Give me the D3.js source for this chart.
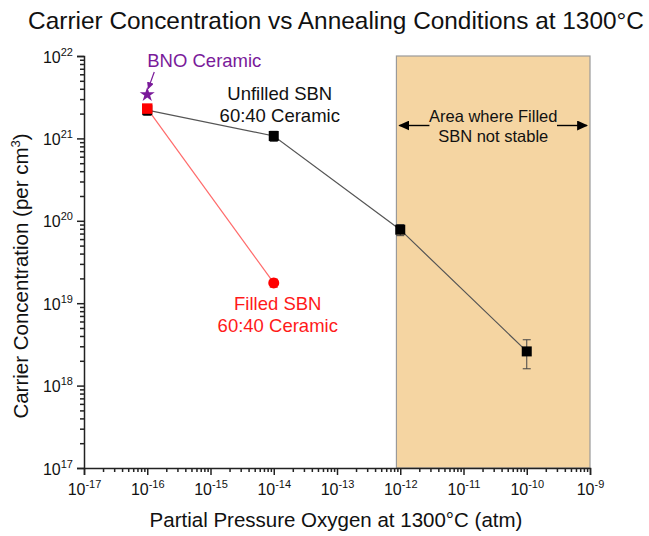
<!DOCTYPE html>
<html>
<head>
<meta charset="utf-8">
<script src="https://cdn.jsdelivr.net/npm/d3@7"></script>
<style>
	body { margin: 0; background: #fff; }
	text { font-family: "Liberation Sans", Arial, sans-serif; }
</style>
</head>
<body>
<div id="graph"></div>
<script>
var	SVGwidth = 649,
	SVGheight = 536,
	margin = {top: 56, right: 59, bottom: 68, left: 84},
	width = SVGwidth - margin.left - margin.right,
	height = SVGheight - margin.top - margin.bottom;

// data
var unfilledPressure = [1e-16, 1e-14, 1e-12, 1e-10],
	unfilledConc = [2.2e21, 1.07e21, 7.8e19, 2.6e18],
	unfilledErr = [0.3e21, 0.15e21, 1.2e19, 1.0e18];

var filledPressure = [1e-16, 1e-14],
	filledConc = [2.3e21, 1.76e19],
	filledErr = [0.15e21, 0.2e19];

var bnoPressure = [1e-16],
	bnoConc = [3.4e21];

var unstableRange = [0.87e-12, 1e-9];

var xMajor = [1e-17, 1e-16, 1e-15, 1e-14, 1e-13, 1e-12, 1e-11, 1e-10, 1e-9],
	xExp = [-17, -16, -15, -14, -13, -12, -11, -10, -9],
	yMajor = [1e17, 1e18, 1e19, 1e20, 1e21, 1e22],
	yExp = [17, 18, 19, 20, 21, 22];

var svg = d3.select('div#graph')
				.append('svg')
				.attr('width', SVGwidth)
				.attr('height', SVGheight);

var g = svg.append('g')
	.attr('transform', 'translate(' + margin.left + ',' + margin.top + ')');

var x = d3.scaleLog()
		.domain([1e-17, 1e-9])
		.range([0, width]),
	y = d3.scaleLog()
		.domain([1e17, 1e22])
		.range([height, 0]);

function minors(majors) {
	var out = [];
	majors.slice(0, -1).forEach(function(m) {
		for (var k = 2; k < 10; k++) out.push(m * k);
	});
	return out;
}

// shaded region
g.append('rect')
	.attr('x', x(unstableRange[0]))
	.attr('y', 0)
	.attr('width', x(unstableRange[1]) - x(unstableRange[0]))
	.attr('height', height)
	.attr('fill', '#f5d5a2')
	.attr('stroke', '#9a9a9a')
	.attr('stroke-width', 1.2);

// axes
var xAxis = g.append('g')
	.attr('transform', 'translate(0,' + height + ')')
	.call(d3.axisBottom(x).tickValues(xMajor).tickSize(7).tickFormat(function() { return ''; }));
g.append('g')
	.attr('transform', 'translate(0,' + height + ')')
	.call(d3.axisBottom(x).tickValues(minors(xMajor)).tickSize(4).tickFormat(function() { return ''; }))
	.select('.domain').remove();

var yAxis = g.append('g')
	.call(d3.axisLeft(y).tickValues(yMajor).tickSize(7).tickFormat(function() { return ''; }));
g.append('g')
	.call(d3.axisLeft(y).tickValues(minors(yMajor)).tickSize(4).tickFormat(function() { return ''; }))
	.select('.domain').remove();

g.selectAll('.domain, .tick line')
	.attr('stroke', '#222')
	.attr('stroke-width', 1.5);

// tick labels with superscript exponents
xAxis.selectAll('.tick').each(function(d, i) {
	var t = d3.select(this).append('text')
		.attr('y', 27)
		.attr('fill', '#111')
		.attr('font-size', 16)
		.attr('text-anchor', 'middle');
	t.append('tspan').text('10');
	t.append('tspan').attr('dy', -7).attr('font-size', 11).text(xExp[i]);
});
yAxis.selectAll('.tick').each(function(d, i) {
	var t = d3.select(this).append('text')
		.attr('x', -11)
		.attr('y', 6)
		.attr('fill', '#111')
		.attr('font-size', 16)
		.attr('text-anchor', 'end');
	t.append('tspan').text('10');
	t.append('tspan').attr('dy', -7).attr('font-size', 11).text(yExp[i]);
});

var line = d3.line()
	.x(function(d) { return x(d[0]); })
	.y(function(d) { return y(d[1]); });

function pts(px, py) { return px.map(function(p, i) { return [p, py[i]]; }); }

g.append('path')
	.datum(pts(unfilledPressure, unfilledConc))
	.attr('d', line)
	.attr('fill', 'none')
	.attr('stroke', '#555')
	.attr('stroke-width', 1.2);

g.append('path')
	.datum(pts(filledPressure, filledConc))
	.attr('d', line)
	.attr('fill', 'none')
	.attr('stroke', '#ff6a6a')
	.attr('stroke-width', 1.2);

function errorBars(px, py, pe, colour) {
	var eb = g.append('g').selectAll('g')
		.data(px.map(function(p, i) { return {p: p, c: py[i], e: pe[i]}; }))
		.enter().append('g')
		.attr('stroke', colour)
		.attr('stroke-width', 1);
	eb.append('line')
		.attr('x1', function(d) { return x(d.p); })
		.attr('x2', function(d) { return x(d.p); })
		.attr('y1', function(d) { return y(d.c + d.e); })
		.attr('y2', function(d) { return y(d.c - d.e); });
	[1, -1].forEach(function(s) {
		eb.append('line')
			.attr('x1', function(d) { return x(d.p) - 4; })
			.attr('x2', function(d) { return x(d.p) + 4; })
			.attr('y1', function(d) { return y(d.c + s * d.e); })
			.attr('y2', function(d) { return y(d.c + s * d.e); });
	});
}

errorBars(unfilledPressure, unfilledConc, unfilledErr, '#444');
errorBars(filledPressure, filledConc, filledErr, '#c44');

g.selectAll('rect.unfilled')
	.data(pts(unfilledPressure, unfilledConc))
	.enter().append('rect')
	.attr('class', 'unfilled')
	.attr('x', function(d) { return x(d[0]) - 5; })
	.attr('y', function(d) { return y(d[1]) - 5; })
	.attr('width', 10)
	.attr('height', 10)
	.attr('fill', '#000');

g.selectAll('path.filled')
	.data(pts(filledPressure, filledConc))
	.enter().append('path')
	.attr('class', 'filled')
	.attr('transform', function(d) { return 'translate(' + x(d[0]) + ',' + y(d[1]) + ')'; })
	.attr('d', function(d, i) {
		return d3.symbol().type(i === 0 ? d3.symbolSquare : d3.symbolCircle).size(i === 0 ? 110 : 95)();
	})
	.attr('fill', '#ff0000');

g.selectAll('path.bno')
	.data(pts(bnoPressure, bnoConc))
	.enter().append('path')
	.attr('class', 'bno')
	.attr('transform', function(d) { return 'translate(' + x(d[0]) + ',' + y(d[1]) + ')'; })
	.attr('d', d3.symbol().type(d3.symbolStar).size(70))
	.attr('fill', '#7a1a9a');

// annotations
var defs = svg.append('defs');
function marker(id, colour, w, h) {
	defs.append('marker')
		.attr('id', id)
		.attr('viewBox', '0 0 10 10')
		.attr('refX', 9).attr('refY', 5)
		.attr('markerWidth', w).attr('markerHeight', h)
		.attr('markerUnits', 'userSpaceOnUse')
		.attr('orient', 'auto')
		.attr('preserveAspectRatio', 'none')
		.append('path').attr('d', 'M0,0L10,5L0,10z').attr('fill', colour);
}
marker('arrPurple', '#7a1a9a', 7, 7);
marker('arrBlack', '#000', 11, 10);

var bx = x(bnoPressure[0]), by = y(bnoConc[0]);
g.append('text')
	.attr('x', bx).attr('y', 11)
	.attr('font-size', 18.5).attr('fill', '#7a1a9a')
	.text('BNO Ceramic');
g.append('line')
	.attr('x1', bx + 7).attr('y1', 16)
	.attr('x2', bx + 1).attr('y2', by - 6)
	.attr('stroke', '#7a1a9a').attr('stroke-width', 1.2)
	.attr('marker-end', 'url(#arrPurple)');

var ux = x(unfilledPressure[1]) + 6;
g.append('text')
	.attr('x', ux).attr('y', 44)
	.attr('font-size', 18.5).attr('fill', '#111').attr('text-anchor', 'middle')
	.selectAll('tspan').data(['Unfilled SBN', '60:40 Ceramic']).enter()
	.append('tspan').attr('x', ux).attr('dy', function(d, i) { return i ? 22 : 0; }).text(function(d) { return d; });

var fx = x(filledPressure[1]) + 4;
g.append('text')
	.attr('x', fx).attr('y', 254)
	.attr('font-size', 18.5).attr('fill', '#ff1a1a').attr('text-anchor', 'middle')
	.selectAll('tspan').data(['Filled SBN', '60:40 Ceramic']).enter()
	.append('tspan').attr('x', fx).attr('dy', function(d, i) { return i ? 22 : 0; }).text(function(d) { return d; });

var ax0 = x(unstableRange[0]), ax1 = x(unstableRange[1]), amid = (ax0 + ax1) / 2;
g.append('text')
	.attr('x', amid).attr('y', 66)
	.attr('font-size', 16.5).attr('fill', '#111').attr('text-anchor', 'middle')
	.selectAll('tspan').data(['Area where Filled', 'SBN not stable']).enter()
	.append('tspan').attr('x', amid).attr('dy', function(d, i) { return i ? 20 : 0; }).text(function(d) { return d; });
g.append('line')
	.attr('x1', ax0 + 33).attr('y1', 69.5).attr('x2', ax0 + 3).attr('y2', 69.5)
	.attr('stroke', '#000').attr('stroke-width', 1.4).attr('marker-end', 'url(#arrBlack)');
g.append('line')
	.attr('x1', ax1 - 33).attr('y1', 69.5).attr('x2', ax1 - 3).attr('y2', 69.5)
	.attr('stroke', '#000').attr('stroke-width', 1.4).attr('marker-end', 'url(#arrBlack)');

// titles
svg.append('text')
	.attr('x', 336).attr('y', 29)
	.attr('text-anchor', 'middle').attr('font-size', 24.4).attr('fill', '#111')
	.text('Carrier Concentration vs Annealing Conditions at 1300°C');

svg.append('text')
	.attr('x', 336).attr('y', 527)
	.attr('text-anchor', 'middle').attr('font-size', 20.5).attr('fill', '#111')
	.text('Partial Pressure Oxygen at 1300°C (atm)');

var yl = svg.append('text')
	.attr('transform', 'translate(28,' + 276 + ') rotate(-90)')
	.attr('text-anchor', 'middle').attr('font-size', 20.5).attr('fill', '#111');
yl.append('tspan').text('Carrier Concentration (per cm');
yl.append('tspan').attr('dy', -8).attr('font-size', 13).text('3');
yl.append('tspan').attr('dy', 8).text(')');
</script>
</body>
</html>
